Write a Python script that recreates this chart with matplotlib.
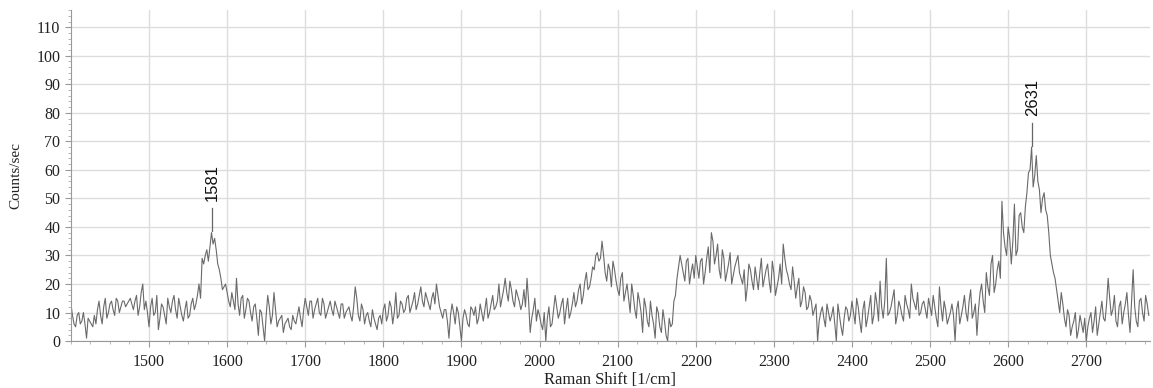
import numpy as np
import matplotlib
matplotlib.use("Agg")
import matplotlib.pyplot as plt
from matplotlib.ticker import MultipleLocator

# Raman shift axis, one reading every 2 1/cm
shift = np.arange(1400, 2781, 2)

# counts at 1400, 1404, ... (one row per 100 1/cm)
counts = [
    13, 6, 9, 6, 10, 1, 7, 5, 6, 14, 6, 15, 10, 14, 9, 14, 12, 14, 13, 15, 11, 16, 12, 20, 14,
    5, 15, 10, 4, 13, 9, 15, 10, 16, 8, 12, 7, 14, 9, 15, 13, 20, 29, 30, 28, 38, 36, 27, 22, 19,
    17, 12, 14, 22, 9, 16, 11, 14, 7, 13, 2, 10, 0, 16, 6, 17, 5, 8, 3, 7, 5, 9, 6, 12, 5,
    15, 9, 14, 11, 15, 9, 13, 10, 14, 9, 12, 8, 13, 10, 12, 7, 19, 9, 13, 6, 10, 5, 8, 4, 9,
    11, 7, 14, 6, 17, 9, 13, 11, 16, 12, 17, 13, 19, 12, 15, 11, 17, 20, 12, 8, 11, 1, 13, 6, 10,
    0, 11, 6, 12, 9, 6, 13, 7, 15, 10, 16, 12, 20, 15, 22, 14, 18, 12, 16, 11, 18, 22, 3, 11, 7,
    9, 4, 0, 12, 6, 16, 8, 13, 6, 15, 10, 17, 14, 20, 16, 24, 19, 26, 30, 28, 35, 24, 27, 19, 25,
    18, 22, 14, 20, 10, 16, 8, 14, 3, 12, 5, 9, 1, 10, 3, 7, 0, 5, 14, 22, 30, 24, 28, 20, 27,
    30, 22, 29, 24, 33, 38, 27, 34, 22, 29, 24, 31, 23, 28, 24, 20, 14, 27, 21, 26, 18, 29, 22, 27, 17,
    24, 19, 27, 34, 25, 20, 26, 15, 22, 14, 17, 12, 14, 11, 0, 10, 8, 13, 7, 12, 0, 9, 2, 12, 7,
    14, 6, 12, 3, 14, 8, 16, 9, 13, 21, 8, 29, 10, 15, 6, 14, 9, 16, 11, 20, 13, 17, 10, 14, 8,
    12, 16, 8, 19, 7, 11, 8, 13, 0, 14, 9, 16, 7, 18, 10, 2, 17, 14, 24, 16, 30, 20, 28, 49, 33,
    40, 27, 48, 32, 45, 38, 52, 60, 54, 65, 53, 50, 46, 38, 27, 22, 14, 17, 8, 11, 2, 7, 1, 9, 3,
    0, 8, 3, 12, 6, 14, 7, 22, 9, 16, 5, 14, 10, 17, 3, 25, 7, 14, 10, 16, 9,
]

# counts in between, at 1402, 1406, ...
counts_mid = [
    9, 5, 10, 7, 6, 8, 6, 9, 11, 9, 12, 8, 13, 11, 15, 10, 14, 12, 14, 13, 14, 9, 17, 11, 10,
    12, 9, 16, 8, 12, 6, 12, 14, 11, 15, 9, 11, 8, 13, 11, 16, 15, 27, 32, 33, 34, 32, 25, 18, 20,
    14, 17, 11, 13, 15, 8, 15, 10, 12, 8, 11, 5, 9, 12, 9, 11, 7, 9, 6, 8, 4, 7, 9, 8, 11,
    12, 14, 8, 13, 10, 15, 8, 12, 11, 14, 10, 13, 8, 11, 9, 12, 15, 7, 11, 9, 7, 11, 6, 8, 6,
    13, 9, 12, 10, 8, 14, 10, 15, 10, 14, 11, 16, 14, 17, 13, 15, 13, 16, 10, 11, 7, 9, 10, 12, 5,
    8, 9, 5, 11, 12, 8, 10, 11, 8, 13, 11, 14, 12, 18, 17, 21, 14, 18, 14, 13, 12, 14, 8, 15, 11,
    6, 10, 8, 5, 11, 12, 10, 15, 11, 8, 13, 12, 18, 13, 21, 18, 22, 25, 31, 29, 30, 21, 25, 28, 21,
    16, 24, 17, 15, 20, 11, 17, 10, 15, 7, 14, 6, 12, 5, 11, 2, 8, 6, 16, 26, 27, 21, 29, 24, 22,
    26, 28, 20, 29, 24, 35, 30, 25, 32, 21, 27, 20, 26, 30, 22, 25, 19, 25, 18, 22, 24, 19, 25, 21, 28,
    16, 22, 20, 29, 23, 18, 21, 19, 12, 19, 11, 16, 9, 13, 7, 12, 5, 10, 9, 6, 13, 5, 8, 11, 9,
    10, 15, 7, 11, 5, 12, 6, 17, 7, 12, 14, 9, 12, 18, 9, 12, 7, 13, 8, 15, 11, 9, 13, 11, 15,
    9, 12, 5, 12, 14, 6, 10, 9, 11, 6, 12, 10, 14, 8, 13, 11, 20, 10, 19, 27, 17, 25, 22, 38, 30,
    36, 35, 30, 44, 40, 47, 59, 68, 58, 56, 45, 52, 44, 30, 24, 18, 10, 13, 5, 9, 5, 10, 4, 6, 8,
    5, 10, 7, 2, 10, 8, 13, 15, 11, 7, 12, 6, 13, 9, 14, 12, 5, 15, 7, 13,
]

peak_pos = [1581, 2631]
peak_val = [38, 68]

y = np.empty(len(shift))
y[0::2] = counts
y[1::2] = counts_mid

fig = plt.figure(figsize=(11.53, 3.88), dpi=100)
ax = fig.add_axes([0.0615, 0.121, 0.9355, 0.853])

ax.plot(shift, y, color='#6a6a6a', lw=0.8)

# peak markers: short tick above the top, then the rotated number
for p, v in zip(peak_pos, peak_val):
    ax.plot([p, p], [v + 0.5, v + 8.5], color='#666666', lw=0.9)
    ax.text(p, v + 11, str(p), rotation=90, ha='center', va='bottom',
            fontsize=12, family='Liberation Sans', color='#111111')

ax.set_xlim(1400, 2781)
ax.set_ylim(0, 116)
ax.xaxis.set_minor_locator(MultipleLocator(25))
ax.yaxis.set_minor_locator(MultipleLocator(2))
ax.set_xticks(range(1500, 2781, 100))
ax.set_yticks(range(0, 111, 10))

ax.grid(True, which='major', color='#dddddd', lw=1)
ax.set_axisbelow(True)
for s in ['top', 'right']:
    ax.spines[s].set_visible(False)
for s in ['left', 'bottom']:
    ax.spines[s].set_color('#999999')

ax.tick_params(axis='both', which='major', length=4, color='#999999',
               labelsize=11.5, labelcolor='#222222')
ax.tick_params(axis='x', which='major', pad=5)
ax.tick_params(axis='both', which='minor', length=2, color='#aaaaaa')
for lab in ax.get_xticklabels() + ax.get_yticklabels():
    lab.set_family('Liberation Serif')

ax.set_xlabel('Raman Shift [1/cm]', family='Liberation Serif', fontsize=12,
              color='#222222', labelpad=2)
ax.set_ylabel('Counts/sec', family='Liberation Serif', fontsize=11,
              color='#222222', labelpad=10)

fig.savefig('out.png', dpi=100)
